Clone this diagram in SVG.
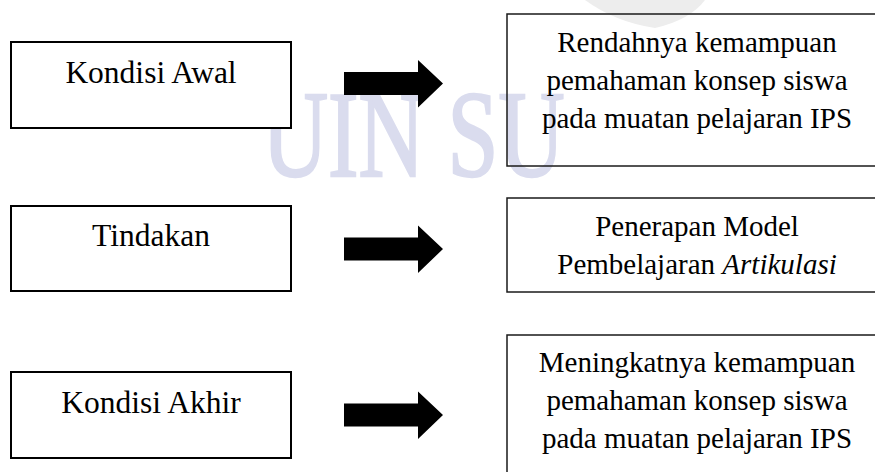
<svg xmlns="http://www.w3.org/2000/svg" width="875" height="472" viewBox="0 0 875 472">
<style>
  .box { fill: #ffffff; stroke: #000000; stroke-width: 2; }
  .rbox { fill: none; stroke: #1a1a1a; stroke-width: 1.5; }
  .lt { font-family: "Liberation Serif", "Times New Roman", serif; font-size: 31.5px; fill: #000; text-anchor: middle; }
  .rt { font-family: "Liberation Serif", "Times New Roman", serif; font-size: 29px; fill: #000; text-anchor: middle; }
  .wm { font-family: "Liberation Serif", "Times New Roman", serif; font-size: 122px; fill: #dadcee; stroke: #dadcee; stroke-width: 2.5; }
  .arrow { fill: #000000; }
</style>
<defs>
  <path id="arr" d="M0,-11.5 H74 V-23.5 L99,0 L74,24 V11.5 H0 Z"/>
</defs>
<rect width="875" height="472" fill="#ffffff"/>
<g id="watermark">
  <path d="M585,0 L705,0 Q690,20 655,28 Q615,22 585,0 Z" fill="#ededed"/>
  <text class="wm" transform="translate(262 176) scale(0.75 1)">UIN SU</text>
</g>
<g id="node-kondisi-awal">
  <rect class="box" x="11" y="42" width="280" height="86"/>
  <text class="lt" x="151" y="83">Kondisi Awal</text>
</g>
<g id="node-rendahnya">
  <rect class="rbox" x="507" y="14" width="380" height="152"/>
  <text class="rt" x="697" y="52">Rendahnya kemampuan</text>
  <text class="rt" x="697" y="90">pemahaman konsep siswa</text>
  <text class="rt" x="697" y="128">pada muatan pelajaran IPS</text>
</g>
<g id="node-tindakan">
  <rect class="box" x="11" y="206" width="280" height="85"/>
  <text class="lt" x="151" y="246">Tindakan</text>
</g>
<g id="node-penerapan">
  <rect class="rbox" x="507" y="198" width="380" height="94"/>
  <text class="rt" x="697" y="236">Penerapan Model</text>
  <text class="rt" x="697" y="274">Pembelajaran <tspan font-style="italic">Artikulasi</tspan></text>
</g>
<g id="node-kondisi-akhir">
  <rect class="box" x="11" y="372" width="280" height="86"/>
  <text class="lt" x="151" y="413">Kondisi Akhir</text>
</g>
<g id="node-meningkatnya">
  <rect class="rbox" x="507" y="335" width="380" height="160"/>
  <text class="rt" x="697" y="372">Meningkatnya kemampuan</text>
  <text class="rt" x="697" y="410">pemahaman konsep siswa</text>
  <text class="rt" x="697" y="448">pada muatan pelajaran IPS</text>
</g>
<g id="connectors">
  <use href="#arr" class="arrow" transform="translate(344 83.5)"/>
  <use href="#arr" class="arrow" transform="translate(344 249)"/>
  <use href="#arr" class="arrow" transform="translate(344 415)"/>
</g>
</svg>
